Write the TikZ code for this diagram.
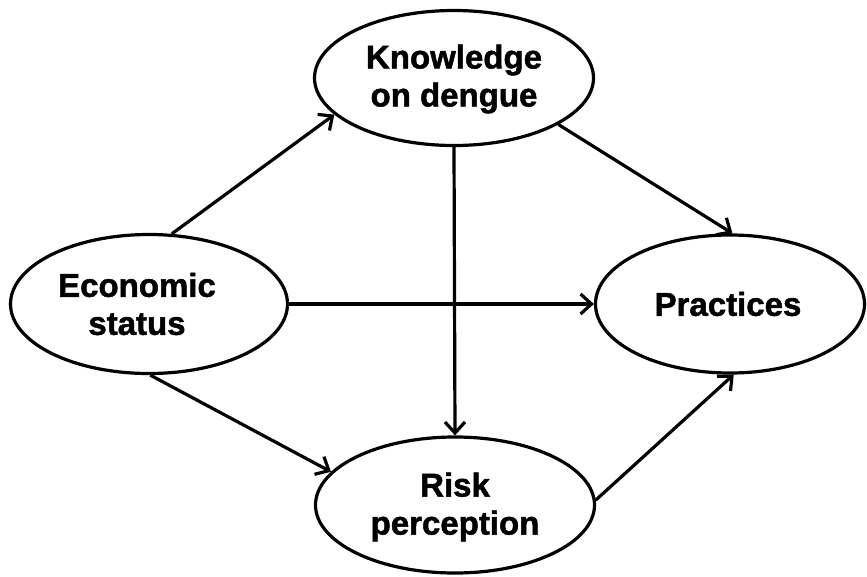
\documentclass[tikz,border=0pt]{standalone}
\usepackage{fontspec}
\setmainfont{Liberation Sans}[BoldFeatures={FakeBold=1.5}]
\usetikzlibrary{shapes.geometric,arrows.meta}
\begin{document}
\begin{tikzpicture}[x=1pt,y=-1pt,
  ell/.style={draw, ellipse, line width=3.2pt, inner sep=0pt, fill=white},
  lbl/.style={font=\fontsize{33}{38}\selectfont\bfseries, align=center},
  conn/.style={line width=3.2pt, -{Straight Barb[length=11pt,width=20pt,line width=3.2pt]}}]
\useasboundingbox (0,0) rectangle (867,576);
\node[ell, minimum width=279pt, minimum height=135pt,
  label={[lbl, yshift=-1pt]center:Knowledge\\on dengue}] (know) at (454,78) {};
\node[ell, minimum width=277pt, minimum height=139pt,
  label={[lbl, xshift=-12pt]center:Economic\\status}] (econ) at (149,304) {};
\node[ell, minimum width=269pt, minimum height=138pt,
  label={[lbl, xshift=-2pt]center:Practices}] (prac) at (730,304) {};
\node[ell, minimum width=279pt, minimum height=136pt,
  label={[lbl, yshift=-2pt]center:Risk\\perception}] (risk) at (455,505) {};
\draw[conn] (econ.72) -- (know.197);
\draw[conn] (econ.0) -- (prac.180);
\draw[conn] (econ.271) -- (risk.165);
\draw[conn] (know.south) -- (risk.north);
\draw[conn] (know.336) -- (prac.88);
\draw[conn] (risk.2) -- (prac.273);
\end{tikzpicture}
\end{document}
